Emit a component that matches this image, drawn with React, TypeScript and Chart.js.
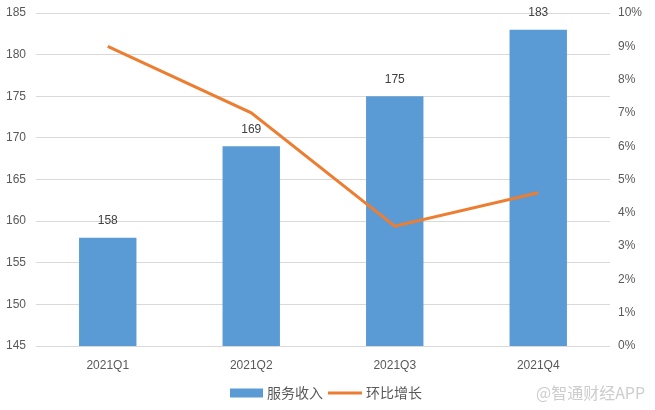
import React, { useEffect, useRef } from "react";
import { Chart, registerables } from "chart.js";

Chart.register(...registerables);

const categories = ["2021Q1", "2021Q2", "2021Q3", "2021Q4"];
const serviceRevenue = [158, 169, 175, 183];
const qoqGrowth = [0.09, 0.07, 0.036, 0.046];
const barLabel = "服务收入";
const lineLabel = "环比增长";
const watermark = "@智通财经APP";

const BAR_COLOR = "#5b9bd5";
const LINE_COLOR = "#ed7d31";
const TEXT_COLOR = "#595959";
const FONT = "'Liberation Sans', 'Noto Sans CJK SC', sans-serif";
const CJK_FONT = "'Noto Sans CJK SC', sans-serif";

const barValueLabels = {
  id: "barValueLabels",
  afterDatasetsDraw(chart: any) {
    const ctx = chart.ctx;
    const meta = chart.getDatasetMeta(1);
    ctx.save();
    ctx.font = `12px ${FONT}`;
    ctx.fillStyle = "#404040";
    ctx.textAlign = "center";
    ctx.textBaseline = "middle";
    meta.data.forEach((el: any, i: number) => {
      ctx.fillText(String(serviceRevenue[i]), el.x, el.y - 17);
    });
    ctx.restore();
  },
};

const customLegend = {
  id: "customLegend",
  afterDraw(chart: any) {
    const ctx = chart.ctx;
    const cy = 393;
    ctx.save();
    ctx.fillStyle = BAR_COLOR;
    ctx.fillRect(230, cy - 4.5, 33, 9);
    ctx.font = `14px ${CJK_FONT}`;
    ctx.fillStyle = TEXT_COLOR;
    ctx.textAlign = "left";
    ctx.textBaseline = "middle";
    ctx.fillText(barLabel, 267, cy);
    ctx.strokeStyle = LINE_COLOR;
    ctx.lineWidth = 3;
    ctx.beginPath();
    ctx.moveTo(328, cy);
    ctx.lineTo(362, cy);
    ctx.stroke();
    ctx.fillText(lineLabel, 366, cy);
    ctx.fillStyle = "#cdcdcd";
    ctx.font = `16px ${CJK_FONT}`;
    ctx.fillText(watermark, 536, cy);
    ctx.restore();
  },
};

const fitVertical = (w: number) => (s: any) => {
  s.width = w;
  s.paddingTop = 0;
  s.paddingBottom = 0;
};

export default function App() {
  const ref = useRef<HTMLCanvasElement | null>(null);
  useEffect(() => {
    if (!ref.current) return;
    const chart = new Chart(ref.current, {
      type: "bar",
      data: {
        labels: categories,
        datasets: [
          {
            type: "line",
            label: lineLabel,
            data: qoqGrowth,
            borderColor: LINE_COLOR,
            backgroundColor: LINE_COLOR,
            borderWidth: 3,
            pointRadius: 0,
            tension: 0,
            yAxisID: "y1",
            order: 0,
          } as any,
          {
            type: "bar",
            label: barLabel,
            data: serviceRevenue,
            backgroundColor: BAR_COLOR,
            categoryPercentage: 1,
            barPercentage: 0.4,
            yAxisID: "y",
            order: 1,
          } as any,
        ],
      },
      options: {
        responsive: false,
        animation: false,
        layout: { padding: { top: 13, bottom: 34, left: 0, right: 0 } },
        plugins: {
          legend: { display: false },
          tooltip: { enabled: false },
        },
        scales: {
          x: {
            grid: { display: false, drawTicks: false },
            border: { display: false },
            ticks: { color: TEXT_COLOR, font: { size: 12, family: FONT }, padding: 12 },
            afterFit: (s: any) => { s.height = 30; s.paddingLeft = 0; s.paddingRight = 0; },
          },
          y: {
            position: "left",
            min: 145,
            max: 185,
            grid: { color: "#d9d9d9", drawTicks: false },
            border: { display: false },
            ticks: { stepSize: 5, color: TEXT_COLOR, font: { size: 12, family: FONT }, padding: 10 },
            afterFit: fitVertical(36),
          },
          y1: {
            position: "right",
            min: 0,
            max: 0.1,
            grid: { display: false, drawTicks: false },
            border: { display: false },
            ticks: {
              stepSize: 0.01,
              color: TEXT_COLOR,
              font: { size: 12, family: FONT },
              padding: 8,
              callback: (v: any) => `${Math.round(Number(v) * 100)}%`,
            },
            afterFit: fitVertical(45),
          },
        },
      },
      plugins: [barValueLabels, customLegend],
    });
    return () => chart.destroy();
  }, []);
  return (
    <div style={{ position: "absolute", left: 0, top: 0, width: 655, height: 410, background: "#fff" }}>
      <canvas ref={ref} width={655} height={410} />
    </div>
  );
}
